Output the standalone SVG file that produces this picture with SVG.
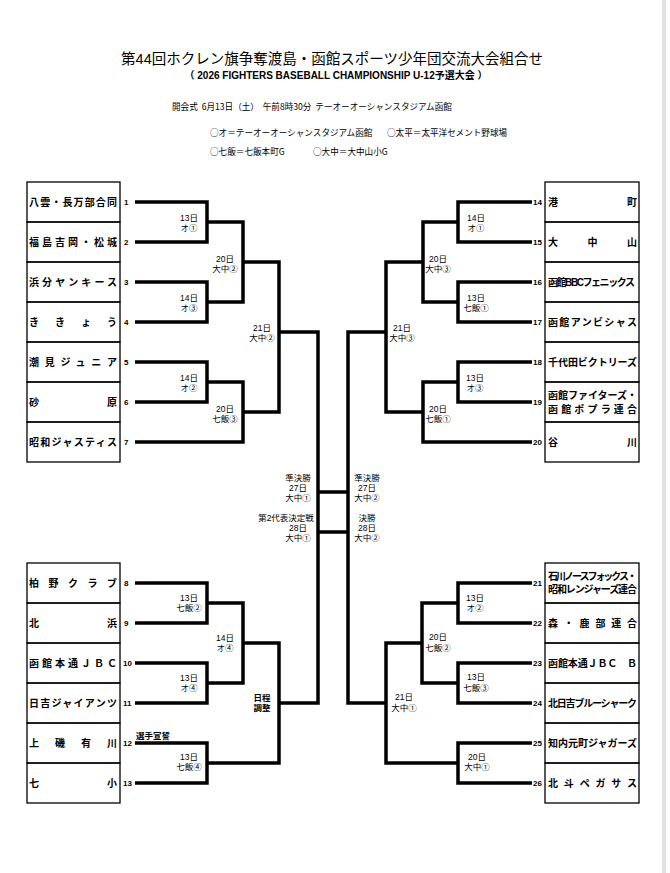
<svg xmlns="http://www.w3.org/2000/svg" width="670" height="873" viewBox="0 0 670 873">
<style>
text{font-family:"Liberation Sans","Noto Sans CJK JP",sans-serif;fill:#000}
.ttl{font-size:14.5px;text-anchor:middle}
.sub{font-size:10px;font-weight:bold;text-anchor:middle}
.inf{font-size:8.6px;font-family:"Noto Sans CJK JP",sans-serif;white-space:pre}
.nm{font-size:10px;font-weight:bold}
.no{font-size:8px;font-weight:bold}
.nor{font-size:8px;font-weight:bold;text-anchor:end}
.lb{font-size:8.5px;text-anchor:middle}
.br{fill:none;stroke:#000;stroke-width:3.5;stroke-linejoin:miter}
.bx{fill:none;stroke:#000;stroke-width:1.3}
</style>
<rect x="0" y="0" width="670" height="873" fill="#fff"/>
<rect x="662" y="0" width="4" height="873" fill="#e2e2e2"/>
<g id="header">
<text class="ttl" x="332" y="64">第44回ホクレン旗争奪渡島・函館スポーツ少年団交流大会組合せ</text>
<text class="sub" x="336" y="79">（ 2026 FIGHTERS BASEBALL CHAMPIONSHIP U-12予選大会 ）</text>
<text class="inf" x="172" y="110">開会式  6月13日（土）  午前8時30分  テーオーオーシャンスタジアム函館</text>
<text class="inf" x="210" y="136">○オ＝テーオーオーシャンスタジアム函館</text>
<text class="inf" x="387" y="136">○太平＝太平洋セメント野球場</text>
<text class="inf" x="210" y="155">○七飯＝七飯本町G</text>
<text class="inf" x="313" y="155">○大中＝大中山小G</text>
</g>
<g id="connectors">
<path class="br" d="M135,202 H207 V242 H135"/>
<path class="br" d="M135,282 H207 V322 H135"/>
<path class="br" d="M135,362 H207 V402 H135"/>
<path class="br" d="M207,222 H243 V302 H207"/>
<path class="br" d="M207,382 H243 V442 H135"/>
<path class="br" d="M243,262 H279 V412 H243"/>
<path class="br" d="M279,332 H318 V703 H279"/>
<path class="br" d="M135,583 H207 V623 H135"/>
<path class="br" d="M135,663 H207 V703 H135"/>
<path class="br" d="M135,743 H207 V783 H135"/>
<path class="br" d="M207,603 H243 V683 H207"/>
<path class="br" d="M243,643 H279 V763 H207"/>
<path class="br" d="M532,202 H458 V242 H532"/>
<path class="br" d="M532,282 H458 V322 H532"/>
<path class="br" d="M532,362 H458 V402 H532"/>
<path class="br" d="M458,222 H423 V302 H458"/>
<path class="br" d="M458,382 H423 V442 H532"/>
<path class="br" d="M423,262 H386 V412 H423"/>
<path class="br" d="M386,332 H348 V703 H386"/>
<path class="br" d="M532,583 H458 V623 H532"/>
<path class="br" d="M532,663 H458 V703 H532"/>
<path class="br" d="M532,743 H458 V783 H532"/>
<path class="br" d="M458,603 H422 V683 H458"/>
<path class="br" d="M422,643 H386 V763 H458"/>
<path class="br" d="M318,492 H348 M318,532 H348"/>
</g>
<g id="match-labels">
<text class="lb" x="189" y="221">13日</text><text class="lb" x="189" y="231">オ①</text>
<text class="lb" x="189" y="301">14日</text><text class="lb" x="189" y="311">オ③</text>
<text class="lb" x="189" y="381">14日</text><text class="lb" x="189" y="391">オ②</text>
<text class="lb" x="225" y="262">20日</text><text class="lb" x="225" y="272">大中②</text>
<text class="lb" x="225" y="412">20日</text><text class="lb" x="225" y="422">七飯③</text>
<text class="lb" x="262" y="331">21日</text><text class="lb" x="262" y="341">大中②</text>
<text class="lb" x="298" y="481">準決勝</text><text class="lb" x="298" y="491">27日</text><text class="lb" x="298" y="501">大中①</text>
<text class="lb" x="286" y="521">第2代表決定戦</text><text class="lb" x="298" y="531">28日</text><text class="lb" x="298" y="541">大中①</text>
<text class="lb" x="367" y="481">準決勝</text><text class="lb" x="367" y="491">27日</text><text class="lb" x="367" y="501">大中②</text>
<text class="lb" x="367" y="521">決勝</text><text class="lb" x="367" y="531">28日</text><text class="lb" x="367" y="541">大中②</text>
<text class="lb" x="476" y="221">14日</text><text class="lb" x="476" y="231">オ①</text>
<text class="lb" x="476" y="301">13日</text><text class="lb" x="476" y="311">七飯①</text>
<text class="lb" x="475" y="381">13日</text><text class="lb" x="475" y="391">オ③</text>
<text class="lb" x="438" y="262">20日</text><text class="lb" x="438" y="272">大中③</text>
<text class="lb" x="438" y="412">20日</text><text class="lb" x="438" y="422">七飯①</text>
<text class="lb" x="402" y="331">21日</text><text class="lb" x="402" y="341">大中③</text>
<text class="lb" x="189" y="601">13日</text><text class="lb" x="189" y="611">七飯②</text>
<text class="lb" x="225" y="641">14日</text><text class="lb" x="225" y="651">オ④</text>
<text class="lb" x="189" y="681">13日</text><text class="lb" x="189" y="691">オ④</text>
<text class="lb" x="189" y="760">13日</text><text class="lb" x="189" y="770">七飯④</text>
<text class="lb" x="262" y="701" font-weight="bold">日程</text><text class="lb" x="262" y="711" font-weight="bold">調整</text>
<text class="lb" x="153" y="739" font-size="5" font-weight="bold">選手宣誓</text>
<text class="lb" x="475" y="601">13日</text><text class="lb" x="475" y="611">オ②</text>
<text class="lb" x="438" y="640">20日</text><text class="lb" x="438" y="651">七飯②</text>
<text class="lb" x="476" y="680">13日</text><text class="lb" x="476" y="691">七飯③</text>
<text class="lb" x="404" y="700">21日</text><text class="lb" x="404" y="711">大中①</text>
<text class="lb" x="477" y="760">20日</text><text class="lb" x="477" y="770">大中①</text>
</g>
<g id="team-1"><rect class="bx" x="27" y="182" width="93" height="40"/><text class="nm" x="29" y="206" textLength="88" lengthAdjust="spacing">八雲・長万部合同</text><text class="no" x="124" y="205">1</text></g>
<g id="team-2"><rect class="bx" x="27" y="222" width="93" height="40"/><text class="nm" x="29" y="246" textLength="88" lengthAdjust="spacing">福島吉岡・松城</text><text class="no" x="124" y="245">2</text></g>
<g id="team-3"><rect class="bx" x="27" y="262" width="93" height="40"/><text class="nm" x="29" y="286" textLength="88" lengthAdjust="spacing">浜分ヤンキース</text><text class="no" x="124" y="285">3</text></g>
<g id="team-4"><rect class="bx" x="27" y="302" width="93" height="40"/><text class="nm" x="29" y="326" textLength="88" lengthAdjust="spacing">ききょう</text><text class="no" x="124" y="325">4</text></g>
<g id="team-5"><rect class="bx" x="27" y="342" width="93" height="40"/><text class="nm" x="29" y="366" textLength="88" lengthAdjust="spacing">潮見ジュニア</text><text class="no" x="124" y="365">5</text></g>
<g id="team-6"><rect class="bx" x="27" y="382" width="93" height="40"/><text class="nm" x="29" y="406" textLength="88" lengthAdjust="spacing">砂原</text><text class="no" x="124" y="405">6</text></g>
<g id="team-7"><rect class="bx" x="27" y="422" width="93" height="40"/><text class="nm" x="29" y="446" textLength="88" lengthAdjust="spacing">昭和ジャスティス</text><text class="no" x="124" y="445">7</text></g>
<g id="team-8"><rect class="bx" x="27" y="563" width="93" height="40"/><text class="nm" x="29" y="587" textLength="88" lengthAdjust="spacing">柏野クラブ</text><text class="no" x="124" y="586">8</text></g>
<g id="team-9"><rect class="bx" x="27" y="603" width="93" height="40"/><text class="nm" x="29" y="627" textLength="88" lengthAdjust="spacing">北浜</text><text class="no" x="124" y="626">9</text></g>
<g id="team-10"><rect class="bx" x="27" y="643" width="93" height="40"/><text class="nm" x="29" y="667" textLength="88" lengthAdjust="spacing">函館本通ＪＢＣ</text><text class="no" x="123" y="666">10</text></g>
<g id="team-11"><rect class="bx" x="27" y="683" width="93" height="40"/><text class="nm" x="29" y="707" textLength="88" lengthAdjust="spacing">日吉ジャイアンツ</text><text class="no" x="123" y="706">11</text></g>
<g id="team-12"><rect class="bx" x="27" y="723" width="93" height="40"/><text class="nm" x="29" y="747" textLength="88" lengthAdjust="spacing">上磯有川</text><text class="no" x="123" y="746">12</text></g>
<g id="team-13"><rect class="bx" x="27" y="763" width="93" height="40"/><text class="nm" x="29" y="787" textLength="88" lengthAdjust="spacing">七小</text><text class="no" x="123" y="786">13</text></g>
<g id="team-14"><rect class="bx" x="545" y="182" width="94" height="40"/><text class="nm" x="548" y="206" textLength="89" lengthAdjust="spacing">港町</text><text class="nor" x="542" y="205">14</text></g>
<g id="team-15"><rect class="bx" x="545" y="222" width="94" height="40"/><text class="nm" x="548" y="246" textLength="89" lengthAdjust="spacing">大中山</text><text class="nor" x="542" y="245">15</text></g>
<g id="team-16"><rect class="bx" x="545" y="262" width="94" height="40"/><text class="nm" x="548" y="286" font-size="8.5" textLength="87" lengthAdjust="spacing">函館BBCフェニックス</text><text class="nor" x="542" y="285">16</text></g>
<g id="team-17"><rect class="bx" x="545" y="302" width="94" height="40"/><text class="nm" x="548" y="326" textLength="89" lengthAdjust="spacing">函館アンビシャス</text><text class="nor" x="542" y="325">17</text></g>
<g id="team-18"><rect class="bx" x="545" y="342" width="94" height="40"/><text class="nm" x="548" y="366" font-size="9.5" textLength="89" lengthAdjust="spacing">千代田ビクトリーズ</text><text class="nor" x="542" y="365">18</text></g>
<g id="team-19"><rect class="bx" x="545" y="382" width="94" height="40"/><text class="nm" x="548" y="399" font-size="9.5" textLength="89" lengthAdjust="spacing">函館ファイターズ・</text><text class="nm" x="548" y="413" font-size="9.5" textLength="89" lengthAdjust="spacing">函館ポプラ連合</text><text class="nor" x="542" y="405">19</text></g>
<g id="team-20"><rect class="bx" x="545" y="422" width="94" height="40"/><text class="nm" x="548" y="446" textLength="89" lengthAdjust="spacing">谷川</text><text class="nor" x="542" y="445">20</text></g>
<g id="team-21"><rect class="bx" x="545" y="563" width="94" height="40"/><text class="nm" x="548" y="580" font-size="8" textLength="89" lengthAdjust="spacing">石川ノースフォックス・</text><text class="nm" x="548" y="593" font-size="8.5" textLength="89" lengthAdjust="spacing">昭和レンジャーズ連合</text><text class="nor" x="542" y="586">21</text></g>
<g id="team-22"><rect class="bx" x="545" y="603" width="94" height="40"/><text class="nm" x="548" y="627" textLength="89" lengthAdjust="spacing">森・鹿部連合</text><text class="nor" x="542" y="626">22</text></g>
<g id="team-23"><rect class="bx" x="545" y="643" width="94" height="40"/><text class="nm" x="548" y="667" font-size="9.5" textLength="89" lengthAdjust="spacing">函館本通ＪＢＣ　Ｂ</text><text class="nor" x="542" y="666">23</text></g>
<g id="team-24"><rect class="bx" x="545" y="683" width="94" height="40"/><text class="nm" x="548" y="707" font-size="8.8" textLength="89" lengthAdjust="spacing">北日吉ブルーシャーク</text><text class="nor" x="542" y="706">24</text></g>
<g id="team-25"><rect class="bx" x="545" y="723" width="94" height="40"/><text class="nm" x="548" y="747" font-size="9.5" textLength="89" lengthAdjust="spacing">知内元町ジャガーズ</text><text class="nor" x="542" y="746">25</text></g>
<g id="team-26"><rect class="bx" x="545" y="763" width="94" height="40"/><text class="nm" x="548" y="787" textLength="89" lengthAdjust="spacing">北斗ペガサス</text><text class="nor" x="542" y="786">26</text></g>
</svg>
